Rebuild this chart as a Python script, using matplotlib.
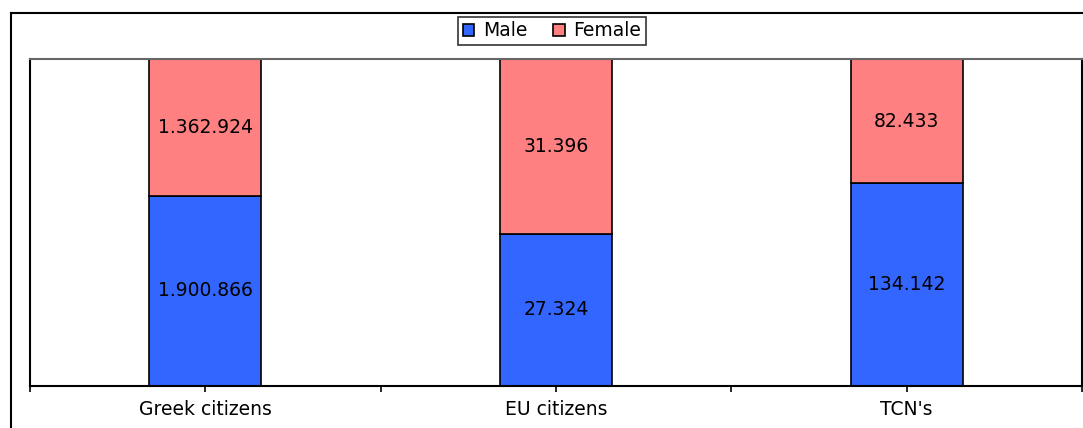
import matplotlib
matplotlib.use("Agg")
import matplotlib.pyplot as plt
from matplotlib.lines import Line2D
import numpy as np

categories = ["Greek citizens", "EU citizens", "TCN's"]
male = [1900866, 27324, 134142]
female = [1362924, 31396, 82433]
male_labels = ["1.900.866", "27.324", "134.142"]
female_labels = ["1.362.924", "31.396", "82.433"]

BLUE = "#3366FF"
PINK = "#FF8080"
FS = 13.5

plt.rcParams["font.family"] = ["DejaVu Sans"]

W, H = 1083, 428
fig = plt.figure(figsize=(W / 100, H / 100), dpi=100)
ax = fig.add_axes([30 / W, 1 - 386 / H, (1082 - 30) / W, (386 - 59) / H])

male = np.array(male, dtype=float)
female = np.array(female, dtype=float)
tot = male + female
m_share = male / tot
f_share = female / tot
x = np.arange(len(categories))
bw = 0.32

ax.bar(x, m_share, bw, color=BLUE, edgecolor="black", linewidth=1.2, label="Male")
ax.bar(x, f_share, bw, bottom=m_share, color=PINK, edgecolor="black", linewidth=1.2, label="Female")

for i in range(len(categories)):
    ax.text(x[i], m_share[i] / 2, male_labels[i], ha="center", va="center", fontsize=FS)
    ax.text(x[i], m_share[i] + f_share[i] / 2, female_labels[i], ha="center", va="center", fontsize=FS)

ax.set_xlim(-0.5, len(categories) - 0.5)
ax.set_ylim(0, 1)
ax.set_yticks([])
ax.set_xticks(np.arange(-0.5, len(categories), 0.5))
ax.set_xticklabels([""] + sum([[c, ""] for c in categories], []), fontsize=FS)
ax.tick_params(axis="x", direction="out", length=4, width=1.2, pad=6)

ax.spines["top"].set_color("#666666")
ax.spines["top"].set_linewidth(1.5)
ax.spines["left"].set_linewidth(1.5)
ax.spines["right"].set_linewidth(1.5)
ax.spines["bottom"].set_linewidth(1.5)

# outer chart frame (clipped at right and bottom)
fig.add_artist(Line2D([11 / W, 11 / W], [0, 1 - 13 / H], color="black", linewidth=1.5))
fig.add_artist(Line2D([11 / W, 1], [1 - 13 / H, 1 - 13 / H], color="black", linewidth=1.5))

leg = fig.legend(loc="center", bbox_to_anchor=(552 / W, 1 - 31 / H), ncol=2, fontsize=FS,
                 frameon=True, fancybox=False, edgecolor="black", handlelength=0.6,
                 handleheight=0.6, handletextpad=0.45, columnspacing=1.4,
                 borderpad=0.25, borderaxespad=0)
leg.get_frame().set_linewidth(1.2)

fig.savefig("out.png", dpi=100)
